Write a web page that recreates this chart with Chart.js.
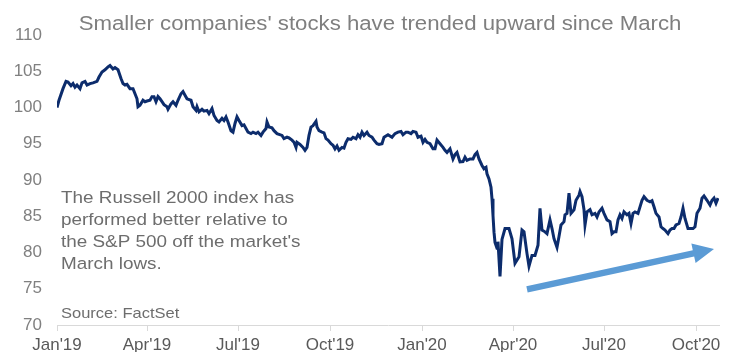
<!DOCTYPE html>
<html>
<head>
<meta charset="utf-8">
<script src="https://cdn.jsdelivr.net/npm/chart.js@4/dist/chart.umd.min.js"></script>
<style>
  html, body { margin: 0; padding: 0; background: #ffffff; }
  #wrap { width: 734px; height: 352px; position: relative; }
</style>
</head>
<body>
<div id="wrap"><canvas id="c" width="734" height="352"></canvas></div>
<script>
// Days since Jan 1, 2019
const dayIndex = [0,2,6,9,11,14,16,18,20,23,25,28,30,33,36,40,42,45,48,51,53,56,58,61,64,66,68,70,73,76,78,80,81,83,86,88,90,93,95,97,99,101,103,105,107,110,111,114,116,119,121,124,126,128,130,134,136,139,140,142,145,147,150,152,155,157,160,162,165,167,169,171,174,176,178,180,182,185,187,189,191,194,196,199,201,204,206,209,210,212,215,217,220,225,227,230,232,235,237,239,240,243,246,248,250,252,254,256,259,260,262,265,267,269,271,274,276,278,280,282,285,287,289,291,294,296,299,301,303,305,307,310,312,315,317,320,322,325,327,331,335,338,341,344,346,349,351,354,356,359,361,364,366,368,370,373,376,378,380,383,386,388,390,393,396,398,400,403,406,408,410,413,416,418,420,422,425,427,429,430,432,434,435,436,437,438,440,441,443,445,448,452,455,458,462,465,467,470,472,475,478,481,483,485,488,490,493,495,497,500,502,504,507,508,510,512,514,517,519,522,523,525,527,528,530,533,535,538,540,542,545,547,550,553,555,557,559,561,563,565,567,570,572,574,576,578,581,583,585,587,590,593,595,597,599,602,604,606,608,611,613,615,617,619,622,624,626,628,631,633,636,638,640,643,645,647,650,653,655,657,659,661];
const russellVsSP = [100.0,101.0,102.6,103.6,103.5,103.0,103.3,102.8,103.1,102.6,103.4,103.6,103.1,103.3,103.4,103.6,104.2,104.9,105.2,105.6,105.8,105.3,105.5,105.2,104.0,103.3,103.1,103.2,102.6,102.6,101.9,101.2,100.1,100.3,101.0,100.8,100.9,101.0,101.5,101.5,100.8,101.5,101.2,100.8,100.4,100.1,99.75,100.5,100.8,100.3,101.0,101.9,102.2,101.7,101.2,101.0,100.1,99.6,100.1,99.4,99.75,99.5,99.6,99.15,99.85,98.9,98.2,98.0,98.5,98.2,98.7,98.0,96.8,96.6,97.8,98.7,98.2,97.5,97.6,97.1,96.6,96.4,96.6,96.4,96.6,96.15,96.6,97.1,98.0,97.3,97.2,96.8,96.4,96.15,95.7,95.9,95.8,95.5,95.2,94.5,95.2,94.9,94.5,94.1,94.5,96.15,97.3,97.5,98.1,97.3,96.8,96.6,96.5,95.7,95.5,95.0,94.8,94.3,94.7,94.1,94.5,94.4,95.2,95.7,95.6,95.9,95.7,96.25,95.9,96.6,96.15,96.6,96.15,95.9,95.5,95.0,94.9,95.0,95.9,96.25,95.9,96.4,96.6,96.7,96.25,96.6,96.6,96.4,96.7,96.6,95.9,96.05,95.2,95.6,95.2,95.0,94.3,94.3,95.5,95.0,94.5,94.1,93.8,94.3,92.9,93.5,93.8,92.5,92.55,93.15,92.7,92.9,92.9,93.5,93.8,92.9,92.0,91.55,91.75,90.85,90.15,89.0,87.4,85.1,82.8,81.4,80.6,81.5,76.7,81.8,83.3,83.3,81.9,78.5,79.4,83.1,82.85,79.85,78.1,79.6,79.6,81.0,86.1,83.1,82.85,82.6,84.5,83.3,81.9,80.7,82.2,83.8,84.25,85.2,85.4,88.2,85.4,85.9,87.2,87.9,88.4,87.7,85.9,83.8,85.6,85.9,85.2,85.4,84.9,85.6,86.1,85.4,84.5,84.25,82.6,82.85,82.85,84.5,85.2,84.7,85.6,85.2,85.4,84.0,85.4,85.6,85.4,86.3,87.2,87.7,87.2,87.0,87.15,86.3,85.4,84.9,83.55,83.3,83.1,82.6,83.1,83.3,83.3,83.8,84.0,84.9,86.1,84.7,83.3,83.3,83.3,83.55,85.4,86.1,87.5,87.8,87.2,86.55,87.2,87.5,86.8,87.5];

const xTickDays = [0,90,181,273,365,456,547,639];
const xTickLabels = ["Jan'19","Apr'19","Jul'19","Oct'19","Jan'20","Apr'20","Jul'20","Oct'20"];
const xMaxDay = 662;
const yMin = 70, yMax = 110, yStep = 5;

const titleText = "Smaller companies' stocks have trended upward since March";
const noteLines = ["The Russell 2000 index has","performed better relative to","the S&P 500 off the market's","March lows."];
const sourceText = "Source: FactSet";
// arrow annotation, in data units (day, value)
const arrowFrom = [470, 74.9];
const arrowTo = [657, 80.5];

const FONT = "'Liberation Sans', Arial, sans-serif";

function drawScaledText(ctx, text, x, y, size, sx, color, align) {
  ctx.save();
  ctx.font = size + "px " + FONT;
  ctx.fillStyle = color;
  ctx.textBaseline = 'alphabetic';
  ctx.textAlign = align || 'left';
  ctx.translate(x, y);
  ctx.scale(sx, 1);
  ctx.fillText(text, 0, 0);
  ctx.restore();
}

const overlay = {
  id: 'overlay',
  afterDraw(chart) {
    const ctx = chart.ctx;
    const xs = chart.scales.x, ys = chart.scales.y;
    // title
    drawScaledText(ctx, titleText, 380, 29.5, 20, 1.11, '#7f7f7f', 'center');
    // note
    const lh = 22.2;
    noteLines.forEach((t, i) => drawScaledText(ctx, t, 61, 202.7 + i * lh, 16.3, 1.16, '#6d6d6d', 'left'));
    // source
    drawScaledText(ctx, sourceText, 61, 318, 15, 1.1, '#6d6d6d', 'left');
    // arrow
    const x1 = xs.getPixelForValue(arrowFrom[0]), y1 = ys.getPixelForValue(arrowFrom[1]);
    const x2 = xs.getPixelForValue(arrowTo[0]), y2 = ys.getPixelForValue(arrowTo[1]);
    const dx = x2 - x1, dy = y2 - y1, len = Math.hypot(dx, dy);
    const ux = dx / len, uy = dy / len, nx = -uy, ny = ux;
    const headLen = 21, headHalf = 10, shaftHalf = 3.2;
    const bx = x2 - ux * headLen, by = y2 - uy * headLen;
    ctx.save();
    ctx.fillStyle = '#5b9bd5';
    ctx.beginPath();
    ctx.moveTo(x1 + nx * shaftHalf, y1 + ny * shaftHalf);
    ctx.lineTo(bx + nx * shaftHalf, by + ny * shaftHalf);
    ctx.lineTo(bx + nx * headHalf, by + ny * headHalf);
    ctx.lineTo(x2, y2);
    ctx.lineTo(bx - nx * headHalf, by - ny * headHalf);
    ctx.lineTo(bx - nx * shaftHalf, by - ny * shaftHalf);
    ctx.lineTo(x1 - nx * shaftHalf, y1 - ny * shaftHalf);
    ctx.closePath();
    ctx.fill();
    ctx.restore();
  }
};

new Chart(document.getElementById('c'), {
  type: 'line',
  data: {
    datasets: [{
      data: dayIndex.map((d, i) => ({ x: d, y: russellVsSP[i] })),
      borderColor: '#0c2c6c',
      borderWidth: 3,
      pointRadius: 0,
      tension: 0,
      fill: false
    }]
  },
  options: {
    responsive: false,
    animation: false,
    events: [],
    layout: { padding: { top: 35, right: 15, bottom: 0, left: 0 } },
    plugins: { legend: { display: false }, tooltip: { enabled: false }, title: { display: false } },
    scales: {
      x: {
        type: 'linear',
        min: 0,
        max: xMaxDay,
        afterBuildTicks(scale) { scale.ticks = xTickDays.map(v => ({ value: v })); },
        afterFit(scale) { scale.height = 27; },
        grid: { drawOnChartArea: false, drawTicks: true, tickLength: 6, color: '#d9d9d9' },
        border: { display: true, color: '#d9d9d9', width: 1 },
        ticks: {
          autoSkip: false, maxRotation: 0, padding: 4,
          color: '#595959',
          font: { family: FONT, size: 17 },
          callback(v) { const i = xTickDays.indexOf(v); return i >= 0 ? xTickLabels[i] : ''; }
        }
      },
      y: {
        min: yMin, max: yMax,
        afterFit(scale) { scale.width = 57; },
        grid: { display: false, drawTicks: false },
        border: { display: false },
        ticks: {
          stepSize: yStep, padding: 15,
          color: '#808080',
          font: { family: FONT, size: 17 }
        }
      }
    }
  },
  plugins: [overlay]
});
</script>
</body>
</html>
